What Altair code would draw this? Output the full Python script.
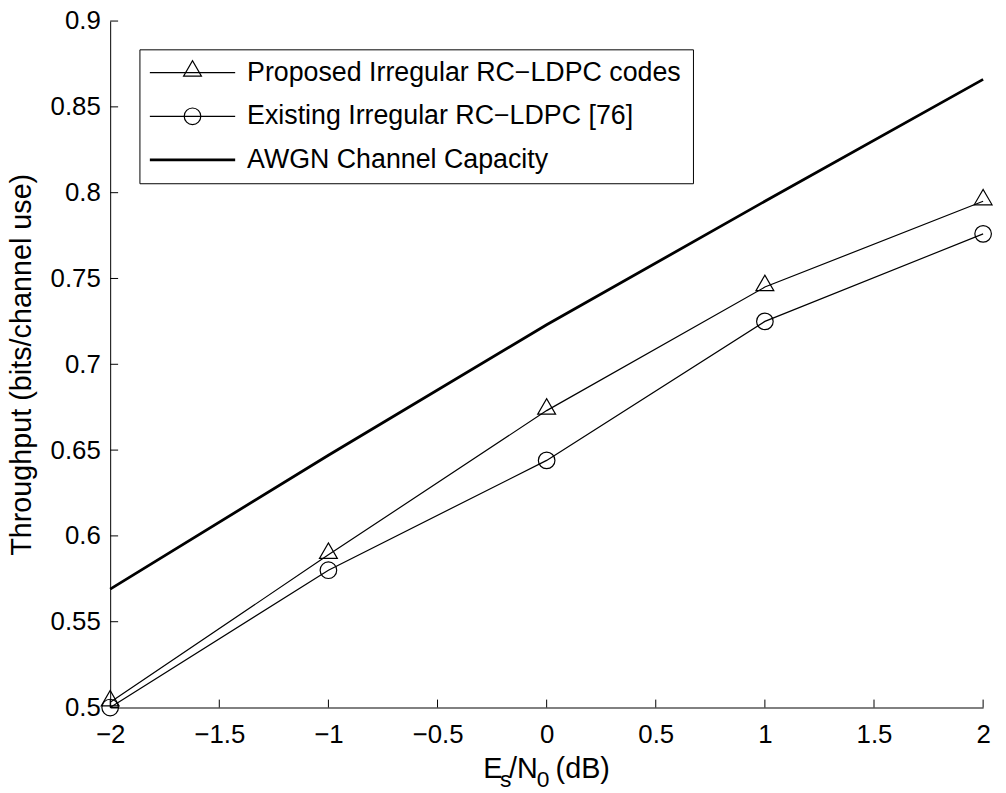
import altair as alt
import pandas as pd

# ---- data ----
snr = [-2, -1, 0, 1, 2]
proposed = [0.503, 0.589, 0.673, 0.745, 0.795]
existing = [0.500, 0.580, 0.644, 0.725, 0.776]
awgn = [0.569, 0.647, 0.723, 0.795, 0.866]
series_names = [
    "Proposed Irregular RC\u2212LDPC codes",
    "Existing Irregular RC\u2212LDPC [76]",
    "AWGN Channel Capacity",
]
x_ticks = [-2, -1.5, -1, -0.5, 0, 0.5, 1, 1.5, 2]
y_ticks = [0.5, 0.55, 0.6, 0.65, 0.7, 0.75, 0.8, 0.85, 0.9]
y_title = "Throughput (bits/channel use)"

FONT = "Liberation Sans"
W, H = 880, 692
TRI = "M -1 0.4 L 1 0.4 L 0 -1.332 Z"

df_p = pd.DataFrame({"x": snr, "y": proposed})
df_e = pd.DataFrame({"x": snr, "y": existing})
df_a = pd.DataFrame({"x": snr, "y": awgn})

xs = alt.Scale(domain=[-2, 2], nice=False, zero=False)
ys = alt.Scale(domain=[0.5, 0.9], nice=False, zero=False)
xa = alt.Axis(values=x_ticks, format="~g", title="")
ya = alt.Axis(values=y_ticks, format="~g", title=y_title)


def X():
    return alt.X("x:Q", scale=xs, axis=xa)


def Y():
    return alt.Y("y:Q", scale=ys, axis=ya)


awgn_line = alt.Chart(df_a).mark_line(color="black", strokeWidth=2.8).encode(x=X(), y=Y())
prop_line = alt.Chart(df_p).mark_line(color="black", strokeWidth=1.2).encode(x=X(), y=Y())
prop_pts = alt.Chart(df_p).mark_point(
    shape=TRI, size=324, filled=False, color="black", strokeWidth=1.2, opacity=1
).encode(x=X(), y=Y())
exist_line = alt.Chart(df_e).mark_line(color="black", strokeWidth=1.2).encode(x=X(), y=Y())
exist_pts = alt.Chart(df_e).mark_point(
    shape="circle", size=279, filled=False, color="black", strokeWidth=1.2, opacity=1
).encode(x=X(), y=Y())

# inward tick marks (MATLAB style)
xt = alt.Chart(pd.DataFrame({"x": x_ticks})).mark_rule(color="black", strokeWidth=1).encode(
    x=X(), y=alt.value(H), y2=alt.value(H - 8)
)
yt = alt.Chart(pd.DataFrame({"y": y_ticks})).mark_rule(color="black", strokeWidth=1).encode(
    y=Y(), x=alt.value(0), x2=alt.value(8)
)

one = pd.DataFrame({"a": [0]})

# legend
box = alt.Chart(one).mark_rect(fill="white", stroke="black", strokeWidth=1).encode(
    x=alt.value(30), x2=alt.value(588), y=alt.value(29), y2=alt.value(164)
)
rows = [52, 96, 140]
leg = [box]
for i, (name, r) in enumerate(zip(series_names, rows)):
    sw = 2.8 if i == 2 else 1.2
    leg.append(
        alt.Chart(one).mark_rule(color="black", strokeWidth=sw).encode(
            x=alt.value(40), x2=alt.value(126), y=alt.value(r)
        )
    )
    leg.append(
        alt.Chart(one).mark_text(
            text=name, align="left", baseline="middle", font=FONT, fontSize=27, color="black"
        ).encode(x=alt.value(138), y=alt.value(r))
    )
leg.append(
    alt.Chart(one).mark_point(
        shape=TRI, size=324, filled=False, color="black", strokeWidth=1.2, opacity=1
    ).encode(x=alt.value(83), y=alt.value(rows[0]))
)
leg.append(
    alt.Chart(one).mark_point(
        shape="circle", size=279, filled=False, color="black", strokeWidth=1.2, opacity=1
    ).encode(x=alt.value(83), y=alt.value(rows[1]))
)

# x-axis title E_s/N_0 (dB) with subscripts
title_parts = [
    ("E", 376, 763, 29),
    ("s", 393, 772, 23),
    ("/N", 402, 763, 29),
    ("0", 430, 772, 23),
    ("(dB)", 449, 763, 29),
]
xtitle = []
for t, px, py, fs in title_parts:
    xtitle.append(
        alt.Chart(one).mark_text(
            text=t, align="left", baseline="alphabetic", font=FONT, fontSize=fs, color="black"
        ).encode(x=alt.value(px), y=alt.value(py))
    )

chart = (
    alt.layer(awgn_line, prop_line, exist_line, prop_pts, exist_pts, xt, yt, *leg, *xtitle)
    .properties(
        width=W,
        height=H,
        autosize=alt.AutoSizeParams(type="none"),
        padding={"left": 103, "top": 10, "right": 15, "bottom": 82},
        background="white",
    )
    .configure_view(stroke=None)
    .configure_axis(
        grid=False,
        ticks=False,
        tickSize=0,
        domainColor="black",
        domainWidth=1,
        labelFont=FONT,
        labelFontSize=26,
        labelColor="black",
        labelFlush=False,
        labelOverlap=False,
        labelBound=False,
        titleFont=FONT,
        titleFontSize=29,
        titleFontWeight="normal",
        titleColor="black",
    )
    .configure_axisX(labelPadding=14)
    .configure_axisY(
        labelPadding=10,
        titleX=-80,
        titleY=346,
        titleAngle=270,
        titleAlign="center",
        titleBaseline="alphabetic",
    )
)

chart.save("out.html", embed_options={"renderer": "svg", "actions": False})
